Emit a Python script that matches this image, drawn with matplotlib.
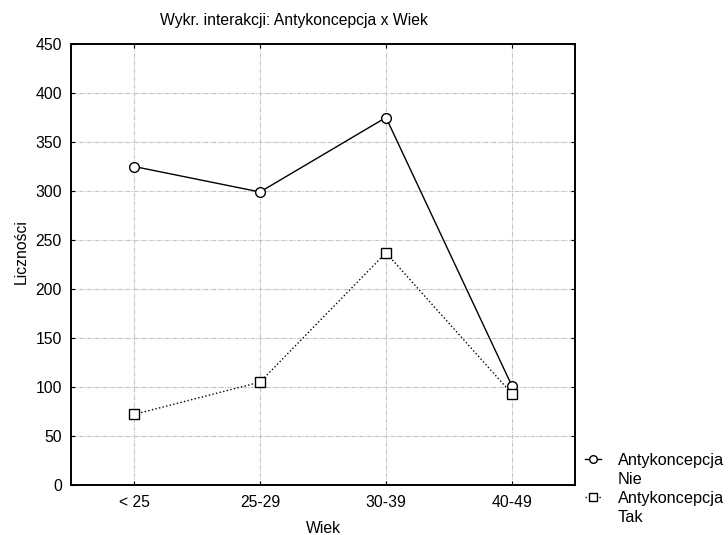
import numpy as np
import matplotlib
matplotlib.use("Agg")
import matplotlib.pyplot as plt
from matplotlib.lines import Line2D

plt.rcParams["font.family"] = ["Liberation Sans", "DejaVu Sans"]

categories = ["< 25", "25-29", "30-39", "40-49"]
nie = [325, 299, 375, 101]
tak = [72, 105, 237, 93]
legend_title = "Antykoncepcja"
groups = ["Nie", "Tak"]

W, H = 728, 535
fig = plt.figure(figsize=(W / 100, H / 100), dpi=100)
ax = fig.add_axes([71 / W, 1 - 485 / H, (575 - 71) / W, (485 - 44) / H])

x = np.arange(len(categories))
ax.plot(x, nie, "k-", lw=1, marker="o", ms=7, mfc="white", mec="black", mew=1)
ax.plot(x, tak, "k:", lw=1, marker="s", ms=7, mfc="white", mec="black", mew=1)

ax.set_xlim(-0.5, 3.5)
ax.set_ylim(0, 450)
ax.set_yticks(range(0, 451, 50))
ax.set_xticks(x)
ax.set_xticklabels(categories)
ax.grid(True, color="#c4c4c4", ls=(0, (4, 1, 1, 1)), lw=0.8)
ax.tick_params(axis="both", labelsize=11.3, direction="in", top=True, right=True, length=3)
ax.tick_params(axis="x", pad=7)
ax.tick_params(axis="y", pad=6.5)
for s in ax.spines.values():
    s.set_linewidth(1.4)

ax.set_xlabel("Wiek", fontsize=11.3)
ax.xaxis.set_label_coords((323 - 71) / (575 - 71), -(521 - 485) / (485 - 44))
ax.set_ylabel("Liczności", fontsize=11.3)
ax.yaxis.set_label_coords(-(71 - 29) / (575 - 71), (485 - 252) / (485 - 44))
fig.text(294 / W, 1 - 20 / H, "Wykr. interakcji: Antykoncepcja x Wiek", fontsize=11.3,
         ha="center", va="center")

blank = Line2D([], [], ls="none")
h1l = Line2D([], [], color="k", ls="-", lw=1, marker="o", ms=5.5, mfc="white", mec="black")
h2l = Line2D([], [], color="k", ls=(0, (1, 1.5)), lw=1, marker="s", ms=5.5, mfc="white", mec="black")
fig.legend([h1l, blank, h2l, blank],
           [legend_title, groups[0], legend_title, groups[1]],
           loc="upper left", bbox_to_anchor=(585 / W, 1 - 453 / H), frameon=False,
           fontsize=11.7, handlelength=1.0, handletextpad=1.0, labelspacing=0.24,
           borderpad=0, borderaxespad=0)

fig.savefig("out.png", dpi=100)
